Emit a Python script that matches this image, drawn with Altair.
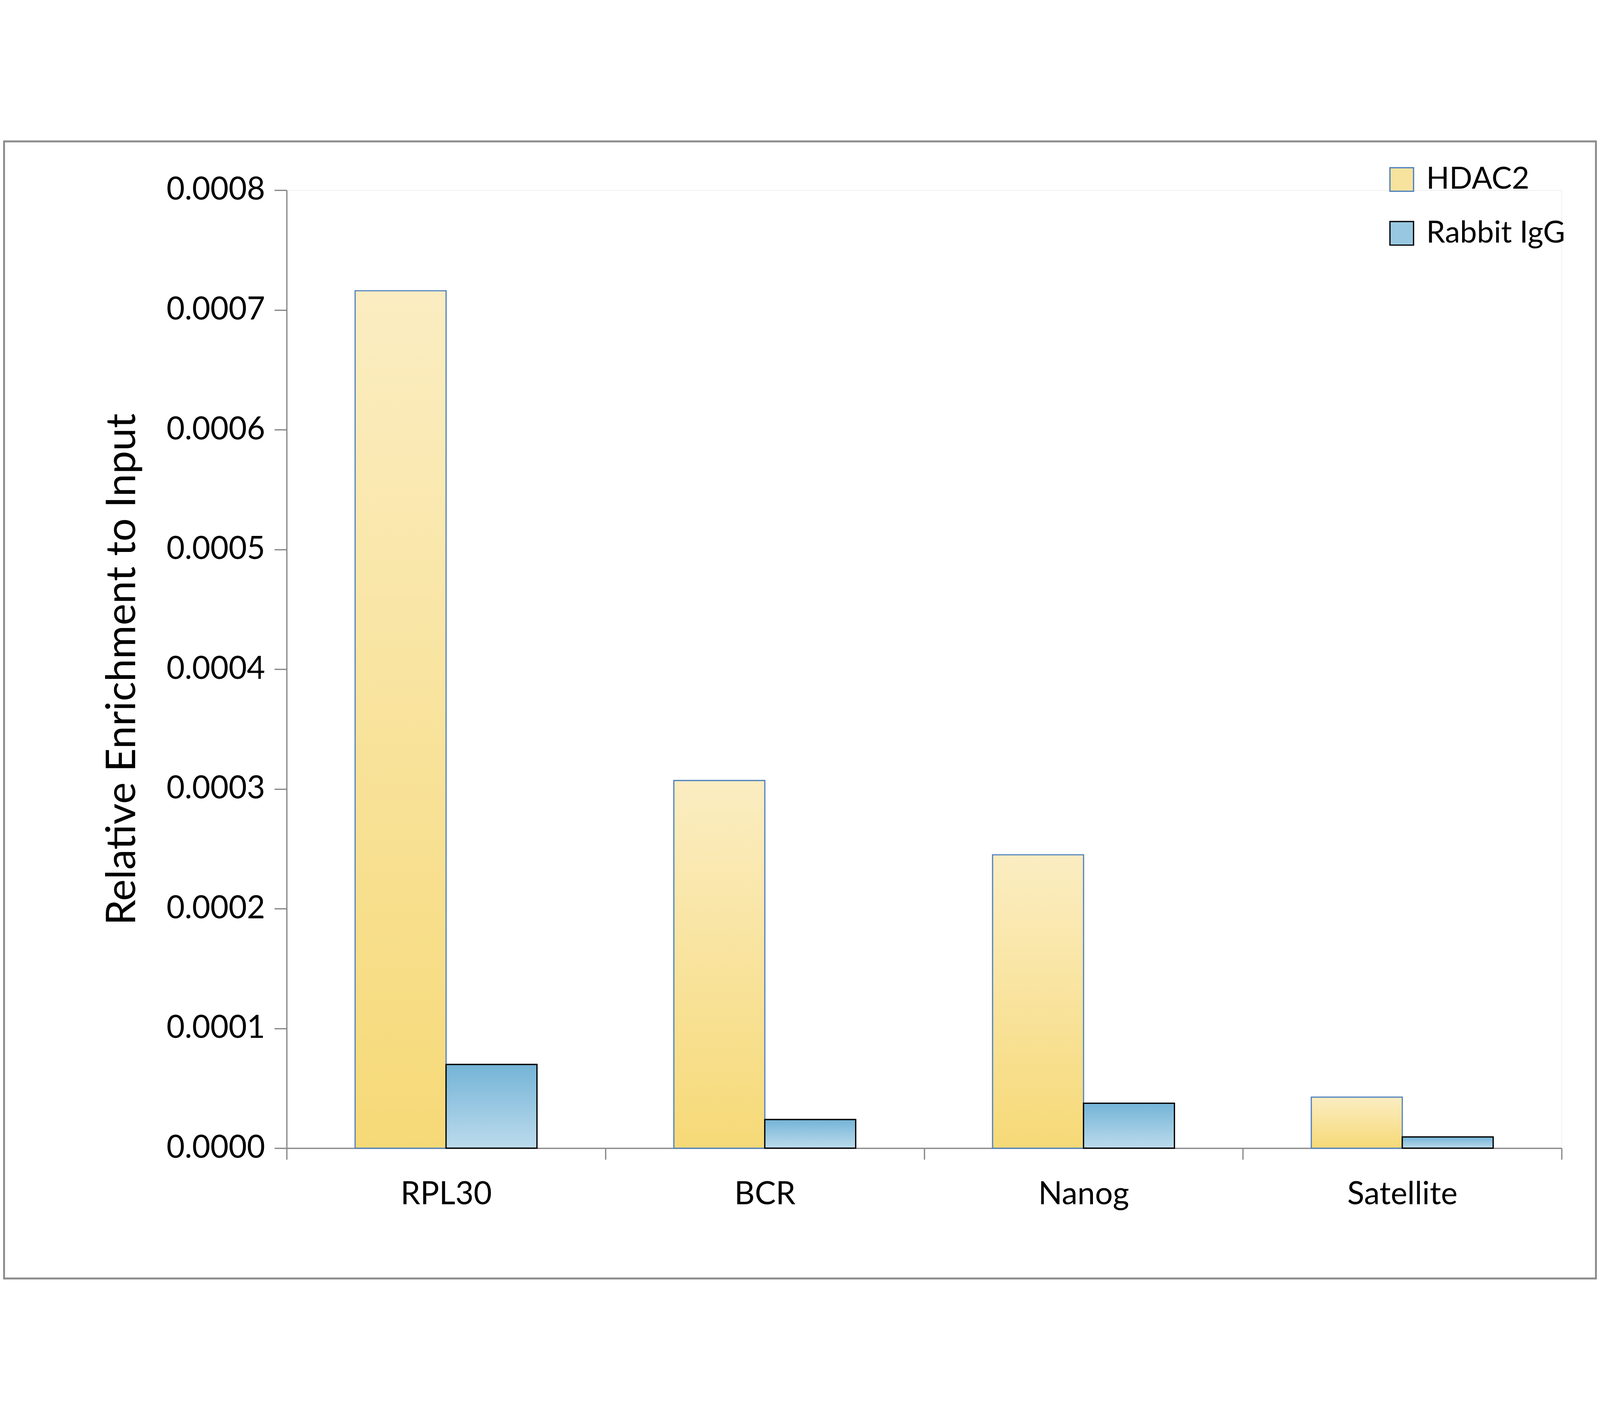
import altair as alt
import pandas as pd

categories = ["RPL30", "BCR", "Nanog", "Satellite"]
series = ["HDAC2", "Rabbit IgG"]
hdac2 = [0.000716, 0.000307, 0.000245, 0.0000426]
igg = [0.0000699, 0.0000239, 0.0000375, 0.0000094]
y_ticks = [0.0, 0.0001, 0.0002, 0.0003, 0.0004, 0.0005, 0.0006, 0.0007, 0.0008]

rows = []
for c, v in zip(categories, hdac2):
    rows.append({"target": c, "series": series[0], "value": v})
for c, v in zip(categories, igg):
    rows.append({"target": c, "series": series[1], "value": v})
df = pd.DataFrame(rows)

FONT = "Lato"
AXIS_GRAY = "#888888"
grad_hdac = alt.LinearGradient(
    gradient="linear", x1=0, x2=0, y1=0, y2=1,
    stops=[alt.GradientStop(color="#FBEDC2", offset=0),
           alt.GradientStop(color="#F6D977", offset=1)])
grad_igg = alt.LinearGradient(
    gradient="linear", x1=0, x2=0, y1=0, y2=1,
    stops=[alt.GradientStop(color="#74B4D7", offset=0),
           alt.GradientStop(color="#BCDBEC", offset=1)])

x_enc = alt.X("target:N", sort=categories,
              scale=alt.Scale(paddingInner=0, paddingOuter=0),
              axis=alt.Axis(title=None, labelFontSize=100, labelFont=FONT,
                            labelColor="black", tickBand="extent", tickSize=36,
                            tickWidth=4, tickColor=AXIS_GRAY, domainColor=AXIS_GRAY,
                            domainWidth=4, labelPadding=63, labelAngle=0,
                            labelLimit=1500))
xo_enc = alt.XOffset("series:N", sort=series,
                     scale=alt.Scale(paddingInner=0, paddingOuter=0.753))
y_enc = alt.Y("value:Q", scale=alt.Scale(domain=[0, 0.0008], nice=False),
              axis=alt.Axis(title="Relative Enrichment to Input", values=y_ticks,
                            format=".4f", labelFontSize=100, labelFont=FONT,
                            labelColor="black", tickSize=39, tickWidth=4,
                            tickColor=AXIS_GRAY, domainColor=AXIS_GRAY, domainWidth=4,
                            labelPadding=30, grid=False, titleFont=FONT,
                            titleFontSize=130, titleFontWeight="normal",
                            titleColor="black", labelLimit=1500, titleLimit=3000,
                            titleX=-455, titleY=1522, titleAngle=270,
                            titleAlign="center", titleBaseline="bottom"))

legend_kw = dict(title=None, orient="none", legendX=3495, legendY=-82,
                 labelFontSize=96, labelFont=FONT, labelColor="black",
                 symbolType="square", symbolSize=5625, symbolStrokeWidth=4,
                 rowPadding=75, labelOffset=30, labelLimit=1500)
color_enc = alt.Color("series:N", sort=series,
                      scale=alt.Scale(domain=series, range=["#F8E39E", "#98C8E1"]),
                      legend=alt.Legend(**legend_kw))
stroke_enc = alt.Stroke("series:N", sort=series,
                        scale=alt.Scale(domain=series, range=["#4F81BD", "#000000"]),
                        legend=alt.Legend(**legend_kw))

base = alt.Chart(df).mark_bar(strokeWidth=3.5).encode(
    x=x_enc, xOffset=xo_enc, y=y_enc, color=color_enc, stroke=stroke_enc)

hdac_layer = alt.Chart(df).transform_filter(alt.datum.series == "HDAC2").mark_bar(
    color=grad_hdac, stroke="#4F81BD", strokeWidth=3.5).encode(
    x=alt.X("target:N", sort=categories), xOffset=alt.XOffset("series:N", sort=series),
    y="value:Q")
igg_layer = alt.Chart(df).transform_filter(alt.datum.series == "Rabbit IgG").mark_bar(
    color=grad_igg, stroke="#000000", strokeWidth=4).encode(
    x=alt.X("target:N", sort=categories), xOffset=alt.XOffset("series:N", sort=series),
    y="value:Q")

frame = alt.Chart(pd.DataFrame({"a": [0]})).mark_rect(
    fillOpacity=0, stroke="#8C8C8C", strokeWidth=6).encode(
    x=alt.value(-898), x2=alt.value(4160), y=alt.value(-155), y2=alt.value(3458))

chart = alt.layer(frame, base, hdac_layer, igg_layer).properties(
    width=4051, height=3044, padding=0
).configure_view(stroke="transparent", strokeWidth=0, strokeOpacity=0).configure(
    background="white")

chart.save("out.html", embed_options={"renderer": "svg", "actions": False})
